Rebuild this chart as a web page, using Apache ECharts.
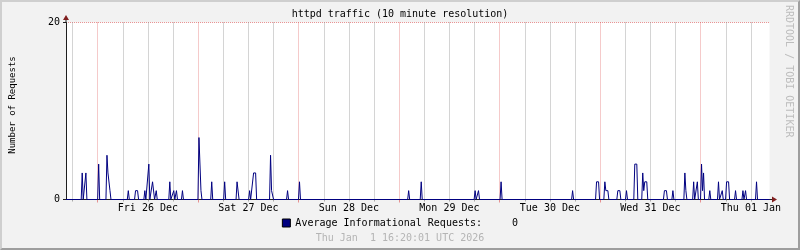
<!DOCTYPE html>
<html><head><meta charset="utf-8">
<script src="https://cdn.jsdelivr.net/npm/echarts@6/dist/echarts.min.js"></script>
<style>
html,body{margin:0;padding:0;background:#f2f2f2;}
#wrap{position:relative;width:800px;height:250px;}
#chart{width:800px;height:250px;}
#frame{position:absolute;left:0;top:0;width:800px;height:250px;box-sizing:border-box;border-top:2px solid #cfcfcf;border-left:2px solid #cfcfcf;border-right:2px solid #9e9e9e;border-bottom:2px solid #9e9e9e;pointer-events:none;}
</style></head><body>
<div id="wrap"><div id="chart"></div><div id="frame"></div></div>
<script>
const chartTitle = 'httpd traffic (10 minute resolution)';
const yAxisName = 'Number of Requests';
const seriesName = 'Average Informational Requests:';
const timestampText = 'Thu Jan  1 16:20:01 UTC 2026';
const watermarkText = 'RRDTOOL / TOBI OETIKER';

// x values: hours relative to Fri 26 Dec 00:00
const xStart = -7.56;
const xEnd = 160.44;
const dayLabels = ['Fri 26 Dec', 'Sat 27 Dec', 'Sun 28 Dec', 'Mon 29 Dec', 'Tue 30 Dec', 'Wed 31 Dec', 'Thu 01 Jan'];
const dayLabelHours = [12, 36, 60, 84, 108, 132, 156];
const majorGridHours = [0, 24, 48, 72, 96, 120, 144];
const minorGridHours = [-6, 6, 12, 18, 30, 36, 42, 54, 60, 66, 78, 84, 90, 102, 108, 114, 126, 132, 138, 150, 156];
const yMin = 0, yMax = 20, yStep = 20;

// consolidated samples (one per pixel column): start hour of each burst and its consecutive values
const stepHours = 0.24;
const eventStartHours = [-3.69, -2.81, 0.24, 2.22, 7.32, 9.05, 11.27, 12.22, 13.11, 13.99,
  17.23, 18.18, 18.82, 20.25, 24.19, 27.24, 30.33, 33.29, 36.29, 37.24,
  41.29, 45.35, 48.20, 74.27, 77.27, 90.14, 90.95, 96.34, 113.42, 119.14,
  121.12, 124.22, 126.29, 128.27, 130.17, 135.35, 137.37, 140.23, 142.33, 143.21,
  144.21, 146.18, 148.26, 149.16, 150.19, 152.33, 154.10, 154.72, 157.34];
const eventValues = [[3], [3], [4], [5, 3, 3, 1], [1], [1, 1, 1], [1], [4], [2, 2], [1],
  [2], [1], [1], [1], [7, 7, 1], [2], [2], [2, 2], [1], [3, 3, 3],
  [5, 1, 1], [1], [2], [1], [2], [1], [1], [2], [1], [2, 2, 2],
  [2, 1, 1, 1], [1, 1, 1], [1], [4, 4, 4], [3, 1, 2, 2, 2], [1, 1, 1], [1], [3, 1], [2], [2],
  [4, 1, 3], [1], [2], [1], [2, 2, 2], [1], [1], [1], [2]];

const seriesData = [[xStart, 0]];
eventStartHours.forEach((t, i) => {
  const vals = eventValues[i];
  seriesData.push([t - stepHours, 0]);
  vals.forEach((v, j) => seriesData.push([t + j * stepHours, v]));
  seriesData.push([t + vals.length * stepHours, 0]);
});
seriesData.push([xEnd, 0]);
const lastValue = seriesData[seriesData.length - 1][1];

const MONO = 'DejaVu Sans Mono';
const AXIS = '#1f1f1f';
const ARROW = '#801f1f';
const GRID = 'rgba(143,143,143,0.75)';
const MGRID = 'rgba(222,80,80,0.6)';
const stem = 'path://M0,0 L1,0 L1,3 L0,3 Z';
const tri = 'path://M3,0 L6,5 L0,5 Z';

const chart = echarts.init(document.getElementById('chart'), null, {renderer: 'canvas'});
const baseX = {type: 'value', min: xStart, max: xEnd, position: 'bottom', gridIndex: 0};
chart.setOption({
  animation: false,
  backgroundColor: '#f2f2f2',
  title: [
    {text: chartTitle, left: 'center', top: 9, padding: 0,
     textStyle: {fontFamily: MONO, fontSize: 10, fontWeight: 'normal', color: '#000'}},
    {text: timestampText, left: 'center', top: 233, padding: 0,
     textStyle: {fontFamily: MONO, fontSize: 10, fontWeight: 'normal', color: '#b4b4b4'}}
  ],
  graphic: [{
    type: 'text', x: 789, y: 5, rotation: -Math.PI / 2, silent: true,
    style: {text: watermarkText, fontFamily: MONO, fontSize: 10, fill: '#bdbdbd', align: 'left', verticalAlign: 'middle'}
  }],
  legend: {
    top: 218, left: 'center', itemWidth: 8, itemHeight: 8, padding: 0,
    data: [{name: seriesName, icon: 'rect'}],
    itemStyle: {borderColor: '#000', borderWidth: 1},
    textStyle: {fontFamily: MONO, fontSize: 10, color: '#000'},
    formatter: n => n + '     ' + String(lastValue)
  },
  grid: {left: 64.5, right: 30.5, top: 22.5, bottom: 50.5, show: true, backgroundColor: '#ffffff', borderWidth: 0},
  xAxis: [
    Object.assign({}, baseX, {
      axisLine: {show: true, onZero: false, lineStyle: {color: AXIS, width: 1}, symbol: ['none', stem], symbolSize: [1, 3], symbolOffset: [0, 1.5]},
      axisTick: {show: false},
      axisLabel: {show: true, customValues: dayLabelHours, margin: 4,
        formatter: v => dayLabels[dayLabelHours.indexOf(v)] || '',
        fontFamily: MONO, fontSize: 10, color: '#000'},
      splitLine: {show: false}
    }),
    Object.assign({}, baseX, {
      axisLine: {show: false, onZero: false},
      axisTick: {show: true, customValues: minorGridHours, length: 2, lineStyle: {color: GRID}},
      axisLabel: {show: false},
      splitLine: {show: true, lineStyle: {color: GRID, width: 1, type: [1, 1]}}
    }),
    Object.assign({}, baseX, {
      axisLine: {show: false, onZero: false},
      axisTick: {show: true, customValues: majorGridHours, length: 3, lineStyle: {color: MGRID}},
      axisLabel: {show: false},
      splitLine: {show: true, lineStyle: {color: MGRID, width: 1, type: [1, 1]}}
    }),
    Object.assign({}, baseX, {
      axisLine: {show: true, onZero: false, lineStyle: {color: ARROW, width: 0}, symbol: ['none', tri], symbolSize: [6, 5], symbolOffset: [0, 5]},
      axisTick: {show: false}, axisLabel: {show: false}, splitLine: {show: false}
    })
  ],
  yAxis: [
    {type: 'value', min: yMin, max: yMax, interval: yStep, position: 'left',
     name: yAxisName, nameLocation: 'middle', nameRotate: 90, nameGap: 49,
     nameTextStyle: {fontFamily: MONO, fontSize: 9, color: '#000', padding: [0, 0, 0, 12]},
     axisLine: {show: true, onZero: false, lineStyle: {color: AXIS, width: 1}, symbol: ['none', stem], symbolSize: [1, 3], symbolOffset: [0, 1.5]},
     axisTick: {show: true, length: 3, lineStyle: {color: AXIS}},
     axisLabel: {show: true, margin: 6, fontFamily: MONO, fontSize: 10, color: '#000'},
     splitLine: {show: true, showMinLine: false, lineStyle: {color: MGRID, width: 1, type: [1, 1]}}
    },
    {type: 'value', min: yMin, max: yMax, interval: yStep, position: 'left',
     axisLine: {show: true, onZero: false, lineStyle: {color: ARROW, width: 0}, symbol: ['none', tri], symbolSize: [6, 5], symbolOffset: [0, 5]},
     axisTick: {show: false}, axisLabel: {show: false}, splitLine: {show: false}
    }
  ],
  series: [{
    name: seriesName, type: 'line', xAxisIndex: 0, yAxisIndex: 0,
    data: seriesData, showSymbol: false, symbol: 'none',
    lineStyle: {color: '#000080', width: 1}, itemStyle: {color: '#000080'},
    z: 5
  }]
});
</script>
</body></html>
